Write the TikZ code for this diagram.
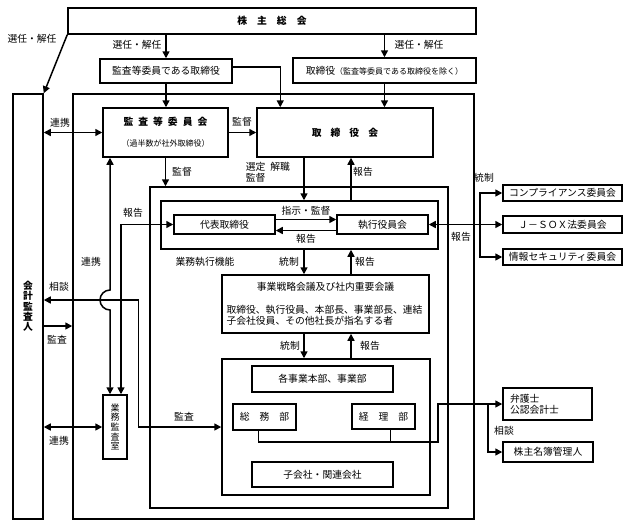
\documentclass[tikz,border=0pt]{standalone}
\usepackage{fontspec}
\setmainfont{Noto Sans CJK JP}
\usetikzlibrary{arrows.meta, calc}

\begin{document}
\begin{tikzpicture}[
    x=1pt, y=-1pt,
    font=\fontsize{9.8}{11}\selectfont,
    >={Triangle[length=7pt,width=7pt]},
    line width=1.5pt,
    % Styles
    unitbox/.style={draw, line width=1.5pt, inner sep=0pt, align=center},
    framebox/.style={draw, line width=1.5pt, inner sep=0pt},
    lbl/.style={inner sep=0pt, align=center},
    arr/.style={->, line width=1.5pt},
    dbl/.style={<->, line width=1.5pt}
]
\useasboundingbox (0,0) rectangle (636,528);

% ----------------------------------------------------
% Frames
% ----------------------------------------------------
\node[framebox, minimum width=401pt, minimum height=425pt] (outer) at (273.5,306.5) {};
\node[framebox, minimum width=298pt, minimum height=321pt] (mid) at (299,347.5) {};
\node[framebox, minimum width=277pt, minimum height=48pt] (exe) at (299.5,225) {};
\node[framebox, minimum width=208pt, minimum height=136pt] (ops) at (326,427) {};

% ----------------------------------------------------
% Shareholders and board
% ----------------------------------------------------
\node[unitbox, minimum width=408pt, minimum height=26pt] (gm) at (272,21)
    {\bfseries 株\hspace{10pt}主\hspace{10pt}総\hspace{10pt}会};
\node[unitbox, minimum width=132pt, minimum height=24pt] (acd) at (166,71) {監査等委員である取締役};
\node[unitbox, minimum width=183pt, minimum height=25pt] (dir) at (384.5,70.5)
    {取締役{\footnotesize （監査等委員である取締役を除く）}};
\node[unitbox, minimum width=30pt, minimum height=425pt, font=\fontsize{9.8}{10.3}\selectfont\bfseries] (ca) at (28,306.5)
    {会\\計\\監\\査\\人};
\node[unitbox, minimum width=125pt, minimum height=49pt] (acc) at (165.5,132.5)
    {\bfseries 監\hspace{5pt}査\hspace{5pt}等\hspace{5pt}委\hspace{5pt}員\hspace{5pt}会\\[10pt]{\footnotesize （過半数が社外取締役）}};
\node[unitbox, minimum width=176pt, minimum height=49pt] (bod) at (345,132.5)
    {\bfseries 取\hspace{9pt}締\hspace{9pt}役\hspace{9pt}会};

% ----------------------------------------------------
% Execution
% ----------------------------------------------------
\node[unitbox, minimum width=101pt, minimum height=19pt] (rep) at (224.5,224.5) {代表取締役};
\node[unitbox, minimum width=91pt, minimum height=19pt] (eo) at (382.5,224.5) {執行役員会};
\node[unitbox, minimum width=207pt, minimum height=58pt, align=left] (strat) at (325.5,304)
    {\makebox[198pt][c]{事業戦略会議及び社内重要会議}\\[12pt]取締役、執行役員、本部長、事業部長、連結\\子会社役員、その他社長が指名する者};
\node[unitbox, minimum width=141pt, minimum height=26pt] (div) at (322.5,379) {各事業本部、事業部};
\node[unitbox, minimum width=63pt, minimum height=26pt] (ga) at (264.5,417) {総\hspace{10pt}務\hspace{10pt}部};
\node[unitbox, minimum width=63pt, minimum height=25pt] (acct) at (383.5,416.5) {経\hspace{10pt}理\hspace{10pt}部};
\node[unitbox, minimum width=141pt, minimum height=25pt] (sub) at (322.5,474.5) {子会社・関連会社};
\node[unitbox, minimum width=24pt, minimum height=64pt, font=\fontsize{9}{9.6}\selectfont] (aud) at (115,427)
    {業\\務\\監\\査\\室};

% ----------------------------------------------------
% Outside parties
% ----------------------------------------------------
\node[unitbox, minimum width=119pt, minimum height=16pt] (comp) at (562.5,193) {コンプライアンス委員会};
\node[unitbox, minimum width=119pt, minimum height=17pt] (jsox) at (562.5,224.5) {Ｊ－ＳＯＸ法委員会};
\node[unitbox, minimum width=119pt, minimum height=16pt] (isec) at (562.5,257) {情報セキュリティ委員会};
\node[unitbox, minimum width=89pt, minimum height=32pt, text width=75pt, align=left] (law) at (547.5,404) {弁護士\\公認会計士};
\node[unitbox, minimum width=90pt, minimum height=20pt] (reg) at (548,452) {株主名簿管理人};

% ----------------------------------------------------
% Connectors
% ----------------------------------------------------
\coordinate (xdn) at (304,0);
\coordinate (xup) at (351,0);
\coordinate (hop) at (110,300);
\coordinate (audy) at (0,326);
\coordinate (xcb) at (480,0);
\coordinate (xbr) at (488,0);
\coordinate (jn) at (438,442);

\draw[arr] (gm.south west) -- (ca.north east);
\draw[arr] (gm.south -| acd.north) -- (acd.north);
\draw[arr] (gm.south -| dir.north) -- (dir.north);
\draw[arr] (acd.south) -- (acd.south |- acc.north);
\draw[arr] ([yshift=4pt]acd.east) -| ([xshift=24pt]bod.north west);
\draw[arr] (dir.south) -- (dir.south |- bod.north);

\draw[dbl] (ca.east |- acc.west) -- (acc.west);
\draw[arr] (acc.east) -- (bod.west);
\draw[arr] (acc.south) -- (acc.south |- mid.north);

\draw[arr] (bod.south -| xdn) -- (exe.north -| xdn);
\draw[arr] (exe.north -| xup) -- (bod.south -| xup);
\draw[arr] ([yshift=5pt]rep.east) -- ([yshift=5pt]eo.west);
\draw[arr] ([yshift=-6pt]eo.west) -- ([yshift=-6pt]rep.east);
\draw[arr] (exe.south -| xdn) -- (strat.north -| xdn);
\draw[arr] (strat.north -| xup) -- (exe.south -| xup);
\draw[arr] (strat.south -| xdn) -- (ops.north -| xdn);
\draw[arr] (ops.north -| xup) -- (strat.south -| xup);

% internal audit links (hop over the consultation line)
\draw[dbl] (acc.south -| hop) -- ([yshift=10pt]hop) arc[start angle=90, end angle=270, radius=10pt] -- (aud.north -| hop);
\draw[dbl] (rep.west) -| ([xshift=6pt]aud.north);
\draw[dbl] (ca.east |- aud.west) -- (aud.west);
\draw[arr] (ca.east |- audy) -- (outer.west |- audy);
\draw[dbl] (ca.east |- hop) -| ([xshift=-83pt]ops.west) -- (ops.west);

% committees
\draw[dbl] (eo.east) -- (jsox.west);
\draw[arr] (jsox.west -| xcb) |- (comp.west);
\draw[arr] (jsox.west -| xcb) |- (isec.west);

% lawyers and registrar
\draw[arr] ([xshift=-6pt]ga.south) |- (jn) |- (law.west);
\draw ([xshift=7pt]acct.south) -- ([xshift=7pt]acct.south |- jn);
\draw[arr] (law.west -| xbr) |- (reg.west);

% ----------------------------------------------------
% Labels
% ----------------------------------------------------
\node[lbl] at (32,39) {選任・解任};
\node[lbl] at (137,45) {選任・解任};
\node[lbl] at (419,45) {選任・解任};
\node[lbl] at (60,123) {連携};
\node[lbl] at (242,122) {監督};
\node[lbl] at (182,172) {監督};
\node[lbl, anchor=west, align=left] at (245,172.5) {選定\hspace{5pt}解職\\監督};
\node[lbl] at (363,172) {報告};
\node[lbl] at (484,178) {統制};
\node[lbl] at (133,213) {報告};
\node[lbl] at (306,211) {指示・監督};
\node[lbl] at (306,239) {報告};
\node[lbl] at (461,237) {報告};
\node[lbl] at (91,262) {連携};
\node[lbl] at (205,262) {業務執行機能};
\node[lbl] at (289,262) {統制};
\node[lbl] at (365,262) {報告};
\node[lbl] at (59,287) {相談};
\node[lbl] at (57,340) {監査};
\node[lbl] at (290,346) {統制};
\node[lbl] at (370,346) {報告};
\node[lbl] at (184,417) {監査};
\node[lbl] at (59,441) {連携};
\node[lbl] at (504,431) {相談};

\end{tikzpicture}
\end{document}
